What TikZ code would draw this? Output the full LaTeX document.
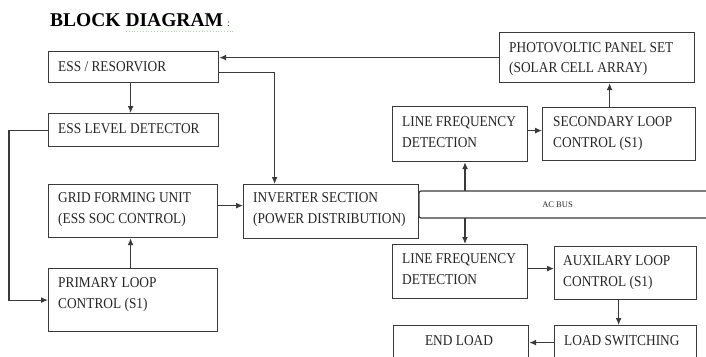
\documentclass[tikz,border=0pt]{standalone}
\usepackage{fontspec}
\setmainfont{Liberation Serif}
\newfontfamily\boxfont[FakeStretch=0.89]{Liberation Serif}
\usetikzlibrary{arrows.meta}
\definecolor{ln}{HTML}{3A3A3A}
\definecolor{tx}{HTML}{262626}
\tikzset{
  box/.style={draw=ln, line width=1.2pt, rectangle, inner sep=0pt, anchor=north west},
  lbl/.style={anchor=west, inner sep=0pt, align=left, text=tx, font=\boxfont\fontsize{15}{20.5}\selectfont},
  arr/.style={draw=ln, line width=1.2pt, -{Latex[length=7pt,width=6pt]}},
  wire/.style={draw=ln, line width=1.2pt},
}
\begin{document}
\begin{tikzpicture}[x=1pt,y=-1pt]
\clip (0,0) rectangle (706,356);
\fill[white] (0,0) rectangle (706,356);
% title
\node[anchor=base west, inner sep=0pt, text=black, font=\fontsize{19.5}{20}\bfseries\selectfont] (title) at (50,27) {BLOCK DIAGRAM};
\node[anchor=base west, inner sep=0pt, text=tx, font=\fontsize{10}{12}\selectfont] (colon) at (227,27) {:};
\draw[green!45!gray!50, line width=0.8pt, dotted] (126,31) -- (233,31);
% boxes
\node[box, minimum width=170pt, minimum height=31pt] (ess) at (48,51) {};
\node[box, minimum width=170pt, minimum height=33pt] (lvl) at (48,113) {};
\node[box, minimum width=169pt, minimum height=53pt] (grid) at (48,184) {};
\node[box, minimum width=169pt, minimum height=63pt] (prim) at (48,268) {};
\node[box, minimum width=175pt, minimum height=54pt] (inv) at (243,184) {};
\node[box, minimum width=195pt, minimum height=50pt] (pv) at (499,32) {};
\node[box, minimum width=153pt, minimum height=53pt] (sec) at (542,107) {};
\node[box, minimum width=135pt, minimum height=55pt] (lfa) at (392,106) {};
\node[box, minimum width=135pt, minimum height=54pt] (lfb) at (392,244) {};
\node[box, minimum width=142pt, minimum height=53pt] (aux) at (554,246) {};
\node[box, minimum width=142pt, minimum height=45pt] (lsw) at (554,325) {};
\node[box, minimum width=135pt, minimum height=45pt] (endl) at (393,325) {};
% labels
\node[lbl] (tess) at (58,66.5) {ESS / RESORVIOR};
\node[lbl] (tlvl) at (58,129) {ESS LEVEL DETECTOR};
\node[lbl] (tgrid) at (58,209.5) {GRID FORMING UNIT\\(ESS SOC CONTROL)};
\node[lbl] (tprim) at (58,294.5) {PRIMARY LOOP\\CONTROL (S1)};
\node[lbl] (tinv) at (253,209.5) {INVERTER SECTION\\(POWER DISTRIBUTION)};
\node[lbl] (tpv) at (509,59) {PHOTOVOLTIC PANEL SET\\(SOLAR CELL ARRAY)};
\node[lbl] (tsec) at (553,133.5) {SECONDARY LOOP\\CONTROL (S1)};
\node[lbl] (tlfa) at (402,132) {LINE FREQUENCY\\DETECTION};
\node[lbl] (tlfb) at (402,269) {LINE FREQUENCY\\DETECTION};
\node[lbl] (taux) at (563,272.5) {AUXILARY LOOP\\CONTROL (S1)};
\node[lbl] (tlsw) at (564,341) {LOAD SWITCHING};
\node[lbl, anchor=center] (tend) at (459,341) {END LOAD};
% AC bus
\coordinate (bustl) at (419,191);
\coordinate (busbl) at (419,218);
\draw[wire, rounded corners=2pt] (706,191) -- (bustl) -- (busbl) -- (706,218);
\node[inner sep=0pt, text=tx, font=\fontsize{8.5}{10}\selectfont] (acbus) at (557.5,204.5) {AC BUS};
\coordinate (bustap) at (465,191);
\coordinate (busbot) at (465,218);
% connectors
\draw[arr] (pv.west) -- (pv.west -| ess.east);
\draw[arr] ([yshift=-5.5pt]ess.east) -| ([xshift=-56.5pt]inv.north);
\draw[arr] ([xshift=-3pt]ess.south) -- ([xshift=-3pt]lvl.north);
\draw[arr] (lvl.west) -- ++(-39,0) |- (prim.west);
\draw[arr] ([xshift=-2.5pt]prim.north) -- ([xshift=-2.5pt]grid.south);
\draw[arr] ([yshift=5.5pt]grid.east) -- ([yshift=5.5pt]grid.east -| inv.west);
\draw[arr] (bustap) -- (bustap |- lfa.south);
\draw[arr] (busbot) -- (busbot |- lfb.north);
\draw[arr] ([yshift=3.5pt]lfa.east) -- ([yshift=3.5pt]lfa.east -| sec.west);
\draw[arr] ([xshift=-9.5pt]sec.north) -- ([xshift=-9.5pt]sec.north |- pv.south);
\draw[arr] ([yshift=3pt]lfb.east) -- ([yshift=3pt]lfb.east -| aux.west);
\draw[arr] ([xshift=-7pt]aux.south) -- ([xshift=-7pt]aux.south |- lsw.north);
\draw[arr] ([yshift=5.5pt]lsw.west) -- ([yshift=5.5pt]lsw.west -| endl.east);
\end{tikzpicture}
\end{document}
